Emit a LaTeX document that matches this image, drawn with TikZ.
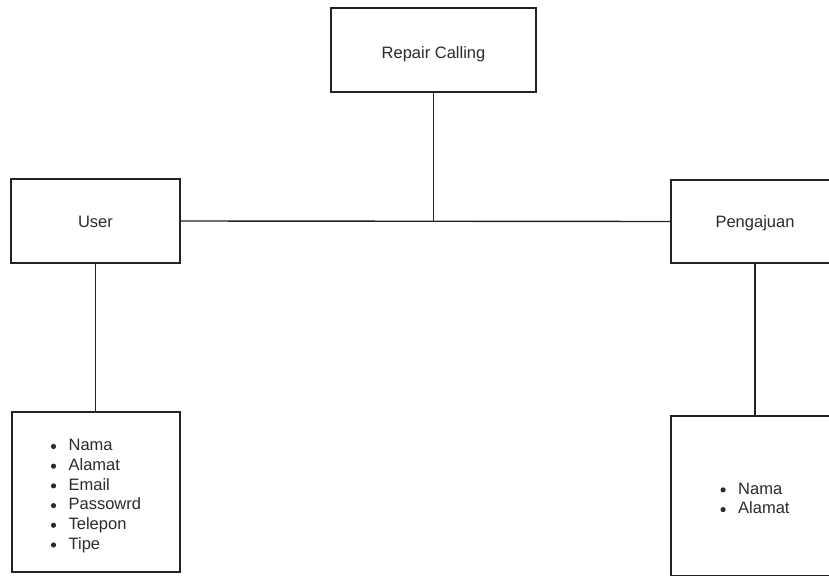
\documentclass[tikz,border=0pt]{standalone}
\usepackage{fontspec}
\setmainfont{Liberation Sans}
\definecolor{ink}{HTML}{222222}
\definecolor{txt}{HTML}{2b2b2b}
% round list bullet, centred about 4pt above the baseline
\newcommand\dotmark{\tikz[baseline=-4.2pt]\fill[txt] (0,0) circle (2.6pt);}
\newcommand\itm[1]{\dotmark\hspace{12.5pt}#1}
% lower a text inside its box without changing the box extents
\newcommand\sinktext[2]{\raisebox{-#1}[\height][\depth]{#2}}
\begin{document}
\begin{tikzpicture}[x=1pt,y=-1pt,
  box/.style={draw=ink,line width=1.4pt,fill=white,inner sep=0pt,
    font=\fontsize{16.5}{19.7}\selectfont,text=txt},
  link/.style={draw=ink,line width=1.4pt}]
\useasboundingbox (0,0) rectangle (829,575);
% entity boxes
\node[box,minimum width=205pt,minimum height=84pt] (rc) at (433.5,50) {\sinktext{4.5pt}{Repair Calling}};
\node[box,minimum width=169pt,minimum height=84pt] (user) at (95.5,221) {\sinktext{0.5pt}{User}};
\node[box,minimum width=168pt,minimum height=83pt] (peng) at (755,221.5) {\sinktext{2pt}{Pengajuan}};
% attribute boxes
\node[box,minimum width=168pt,minimum height=160pt] (ua) at (96,492)
  {\sinktext{4pt}{\begin{tabular}{@{}l@{}}\itm{Nama}\\\itm{Alamat}\\\itm{Email}\\
   \itm{Passowrd}\\\itm{Telepon}\\\itm{Tipe}\end{tabular}}};
\node[box,minimum width=168pt,minimum height=160pt] (pa) at (755,496)
  {\sinktext{4pt}{\begin{tabular}{@{}l@{}}\itm{Nama}\\\itm{Alamat}\end{tabular}}};
% connectors
\coordinate (j) at (rc.south |- user.east);
\draw[link] (user.east) -- (peng.west);
\draw[link] (rc.south) -- (j);
\draw[link] (user.south) -- (user.south |- ua.north);
\draw[link] (peng.south) -- (pa.north);
\end{tikzpicture}
\end{document}
